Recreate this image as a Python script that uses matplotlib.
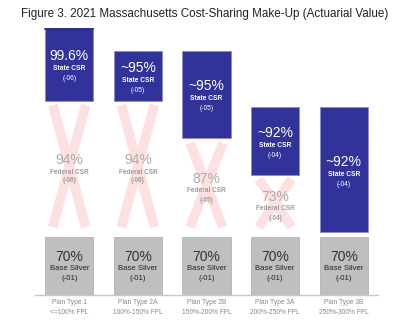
import matplotlib.pyplot as plt
import numpy as np

plt.rcParams['font.family'] = ['Liberation Sans', 'DejaVu Sans']

# categories
plans = ['Plan Type 1\n<=100% FPL', 'Plan Type 2A\n100%-150% FPL', 'Plan Type 2B\n150%-200% FPL',
         'Plan Type 3A\n200%-250% FPL', 'Plan Type 3B\n250%-300% FPL']

# base silver layer
base_pct = ['70%', '70%', '70%', '70%', '70%']
base_top = [58, 58, 58, 58, 58]

# federal CSR layer (crossed out), schematic extents
fed_pct = ['94%', '94%', '87%', '73%', None]
fed_code = ['(-06)', '(-06)', '(-05)', '(-04)', None]
fed_lo = [68, 68, 68, 68, np.nan]
fed_hi = [190, 190, 152, 116, np.nan]

# state CSR layer, schematic extents
state_pct = ['99.6%', '~95%', '~95%', '~92%', '~92%']
state_code = ['(-06)', '(-05)', '(-05)', '(-04)', '(-04)']
state_lo = [194, 194, 157, 120, 63]
state_hi = [267, 244, 244, 188, 188]

blue = '#31339a'
grey = '#bfbfbf'
pink = '#fde0e0'

fig = plt.figure(figsize=(4, 3.27), dpi=100)
fig.patch.set_facecolor('white')
ax = fig.add_axes([35 / 400, 32 / 327, 343 / 400, 295 / 327])
ax.set_xlim(-0.5, 4.5)
ax.set_ylim(0, 295)

x = np.arange(len(plans))
w = 0.70

# base silver bars
ax.bar(x, base_top, width=w, color=grey, edgecolor='#b3b3b3', linewidth=0.6, zorder=2)
for i in x:
    mid = base_top[i] / 2
    ax.text(i, mid + 9, base_pct[i], ha='center', va='center', fontsize=10, color='#333333')
    ax.text(i, mid - 3, 'Base Silver', ha='center', va='center', fontsize=5.6, color='#222222')
    ax.text(i, mid - 13, '(-01)', ha='center', va='center', fontsize=5.6, color='#222222')

# federal CSR, crossed out
for i in x:
    if fed_pct[i] is None:
        continue
    lo, hi = fed_lo[i], fed_hi[i]
    ax.plot([i - 0.24, i + 0.24], [hi, lo], color=pink, lw=7, solid_capstyle='butt', zorder=1)
    ax.plot([i + 0.24, i - 0.24], [hi, lo], color=pink, lw=7, solid_capstyle='butt', zorder=1)
    mid = (lo + hi) / 2
    ax.text(i, mid + 6, fed_pct[i], ha='center', va='center', fontsize=10, color='#ababab', zorder=3)
    ax.text(i, mid - 6, 'Federal CSR', ha='center', va='center', fontsize=4.7, color='#9c9c9c',
            fontweight='bold', zorder=3)
    ax.text(i, mid - 15, fed_code[i], ha='center', va='center', fontsize=4.7, color='#9c9c9c',
            fontweight='bold', zorder=3)

# state CSR bars
heights = np.array(state_hi) - np.array(state_lo)
ax.bar(x, heights, bottom=state_lo, width=w, color=blue, edgecolor='#8c8ccc', linewidth=0.6, zorder=2)
for i in x:
    mid = (state_lo[i] + state_hi[i]) / 2
    ax.text(i, mid + 8, state_pct[i], ha='center', va='center', fontsize=10, color='white', zorder=3)
    ax.text(i, mid - 4.5, 'State CSR', ha='center', va='center', fontsize=4.8, color='white',
            fontweight='bold', zorder=3)
    ax.text(i, mid - 14.5, state_code[i], ha='center', va='center', fontsize=4.8, color='white', zorder=3)

ax.set_xticks(x)
ax.set_xticklabels(plans, fontsize=4.8, color='#888888', linespacing=1.5)
ax.tick_params(axis='x', length=0, pad=3)
ax.set_yticks([])
for s in ['top', 'left', 'right']:
    ax.spines[s].set_visible(False)
ax.spines['bottom'].set_color('#c8c8c8')
ax.spines['bottom'].set_linewidth(1)
ax.set_facecolor('none')

fig.text(21 / 400, 1 - 14.5 / 327, 'Figure 3. 2021 Massachusetts Cost-Sharing Make-Up (Actuarial Value)',
         ha='left', va='center', fontsize=8.4, color='#222222')
fig.add_artist(plt.Line2D([45 / 400, 93 / 400], [1 - 29 / 327, 1 - 29 / 327], color='#1f2a8a', lw=1.2))

fig.savefig('out.png', dpi=100, facecolor='white')
